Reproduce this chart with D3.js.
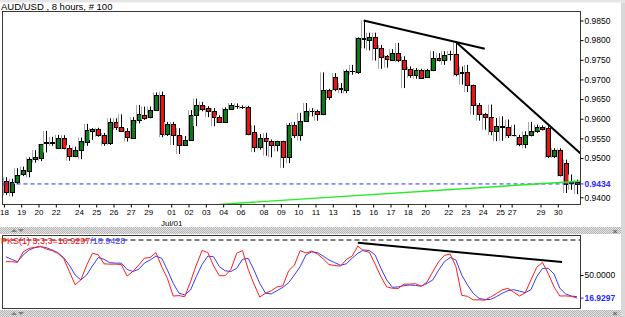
<!DOCTYPE html>
<html>
<head>
<meta charset="utf-8">
<script src="https://cdn.jsdelivr.net/npm/d3@7"></script>
<style>
body { margin: 0; background: #fff; }
svg { display: block; }
</style>
</head>
<body>
<div id="chart"></div>
<script>
// AUD/USD 8h candles
var opens  = [0.9441,0.9414,0.9438,0.9459,0.9468,0.9497,0.9501,0.9537,0.9537,0.9525,
              0.9550,0.9525,0.9505,0.9520,0.9542,0.9570,0.9574,0.9559,0.9537,0.9592,
              0.9580,0.9570,0.9552,0.9597,0.9609,0.9605,0.9622,0.9660,0.9561,0.9587,
              0.9559,0.9533,0.9546,0.9609,0.9634,0.9627,0.9619,0.9604,0.9591,0.9625,
              0.9632,0.9631,0.9630,0.9565,0.9529,0.9551,0.9544,0.9532,0.9543,0.9502,
              0.9583,0.9559,0.9593,0.9619,0.9619,0.9612,0.9674,0.9706,0.9676,0.9674,
              0.9721,0.9718,0.9805,0.9801,0.9807,0.9779,0.9759,0.9750,0.9767,0.9750,
              0.9727,0.9712,0.9725,0.9706,0.9723,0.9755,0.9749,0.9765,0.9765,0.9718,
              0.9718,0.9685,0.9634,0.9612,0.9604,0.9568,0.9581,0.9579,0.9559,0.9553,
              0.9536,0.9558,0.9570,0.9579,0.9576,0.9504,0.9520,0.9487,0.9439,0.9438];
var highs  = [0.9451,0.9447,0.9474,0.9478,0.9502,0.9520,0.9536,0.9569,0.9554,0.9559,
              0.9558,0.9533,0.9529,0.9552,0.9587,0.9576,0.9577,0.9564,0.9601,0.9601,
              0.9611,0.9576,0.9604,0.9635,0.9631,0.9631,0.9667,0.9669,0.9592,0.9592,
              0.9576,0.9556,0.9622,0.9651,0.9643,0.9632,0.9627,0.9609,0.9629,0.9640,
              0.9639,0.9634,0.9633,0.9583,0.9561,0.9564,0.9547,0.9544,0.9544,0.9589,
              0.9592,0.9615,0.9640,0.9627,0.9623,0.9718,0.9676,0.9716,0.9691,0.9725,
              0.9737,0.9807,0.9850,0.9819,0.9819,0.9788,0.9762,0.9777,0.9793,0.9759,
              0.9733,0.9729,0.9727,0.9727,0.9772,0.9767,0.9772,0.9773,0.9795,0.9733,
              0.9737,0.9687,0.9640,0.9615,0.9636,0.9602,0.9606,0.9598,0.9585,0.9559,
              0.9568,0.9592,0.9585,0.9583,0.9581,0.9525,0.9525,0.9496,0.9458,0.9445];
var lows   = [0.9406,0.9402,0.9434,0.9454,0.9451,0.9488,0.9492,0.9514,0.9531,0.9524,
              0.9522,0.9493,0.9502,0.9497,0.9531,0.9546,0.9554,0.9531,0.9533,0.9571,
              0.9567,0.9542,0.9548,0.9588,0.9597,0.9601,0.9620,0.9553,0.9556,0.9533,
              0.9510,0.9531,0.9544,0.9581,0.9619,0.9604,0.9581,0.9589,0.9589,0.9623,
              0.9625,0.9625,0.9558,0.9515,0.9521,0.9506,0.9502,0.9517,0.9475,0.9487,
              0.9551,0.9544,0.9592,0.9606,0.9595,0.9609,0.9648,0.9670,0.9665,0.9665,
              0.9712,0.9714,0.9779,0.9774,0.9748,0.9727,0.9730,0.9750,0.9744,0.9678,
              0.9704,0.9702,0.9702,0.9704,0.9721,0.9746,0.9737,0.9748,0.9708,0.9687,
              0.9668,0.9610,0.9595,0.9572,0.9558,0.9543,0.9544,0.9551,0.9555,0.9530,
              0.9525,0.9555,0.9564,0.9570,0.9500,0.9500,0.9453,0.9411,0.9419,0.9408];
var closes = [0.9414,0.9438,0.9457,0.9469,0.9497,0.9502,0.9535,0.9541,0.9542,0.9550,
              0.9525,0.9505,0.9520,0.9543,0.9571,0.9574,0.9559,0.9537,0.9592,0.9580,
              0.9570,0.9553,0.9597,0.9611,0.9601,0.9622,0.9660,0.9561,0.9587,0.9559,
              0.9533,0.9546,0.9609,0.9634,0.9625,0.9619,0.9604,0.9591,0.9625,0.9634,
              0.9633,0.9630,0.9561,0.9529,0.9551,0.9544,0.9532,0.9543,0.9502,0.9583,
              0.9559,0.9593,0.9619,0.9620,0.9612,0.9674,0.9655,0.9676,0.9677,0.9721,
              0.9722,0.9805,0.9804,0.9807,0.9779,0.9758,0.9751,0.9767,0.9750,0.9727,
              0.9712,0.9725,0.9704,0.9723,0.9755,0.9749,0.9763,0.9764,0.9715,0.9717,
              0.9685,0.9634,0.9612,0.9604,0.9568,0.9582,0.9580,0.9559,0.9558,0.9536,
              0.9559,0.9570,0.9579,0.9574,0.9504,0.9520,0.9458,0.9435,0.9436,0.9434];

// PKS(1) 5,3,3 oscillator: fast (red) and slow (blue)
var fastK = [69,69,68,83,88,89.5,91,87,85,81,
             74,55,36,43,64,81,79,66,65.5,65.5,
             65,48.5,55,64,74,75,82,62,45,20,
             20.5,19,40.5,64,85,82,63,49,49,58,
             81,85,58,37,18.5,24,27.6,33,34.5,56,
             64,84.8,81.5,84,80,73,65,63.5,62.7,72,
             77,91.4,84.5,82.5,65.5,47.5,33,31,30.8,37,
             37,37.6,34,40,55,69,78,80,62,21,
             19.5,14.5,14.5,14,18.5,23.5,28.6,31,25.5,20,
             24.5,43,61,68,52,33,20,20.2,19.5,16.9297];
var slowD = [76,72.4,69,78.6,85.7,89,90.5,89,85.7,82,
             75,64,50,43,50,63,75,72.4,67.6,67,
             67,58,55,58,67,71.4,77,74,57,38,
             24,21.6,28.6,47.6,65,77,76,62,56,55,
             59.5,72.4,73.8,57,38,24,23,27.6,32.4,39,
             50,62,78.6,83,82,77,71.4,67.6,64,66,
             74,81,85.7,85,78.6,59.5,43,32.4,33,34.8,
             35.7,35,34,38,43,57,69,75,71.4,50,
             35.7,23.8,16.7,15,15,19,23.8,27.6,29,27,
             24.8,29,47.6,59.5,59.5,51.4,31,23,20,18.9428];

var dayLabels = ["18","19","20","22","24","25","26","27","29","01","02","03","04","06","08","09",
                 "10","11","13","15","16","17","18","20","22","23","24","25","27","29","30"];
var dayIndex  = [0,3,6,9,13,16,19,22,25,29,32,35,38,41,45,48,
                 51,54,57,61,64,67,70,73,77,80,83,86,88,93,96];
var priceTicks = [0.9400,0.9500,0.9550,0.9600,0.9650,0.9700,0.9750,0.9800,0.9850];
var oscTicks = [50];

// hand-drawn trend lines: [candle index, value]
var trendTop   = [[62, 0.9850], [83, 0.9778]];
var trendDown  = [[78, 0.9795], [99.7, 0.9510]];
var trendGreen = [[37, 0.9382], [99.5, 0.9441]];
var trendOsc   = [[61, 96], [96.4, 68.6]];

var lastPrice = closes[closes.length - 1];

var W = 625, H = 317;
var left = 2.5, right = 580.5;
var mainTop = 11.5, mainBottom = 204.5;
var oscTop = 235.5, oscBottom = 308.5;
var font = "Liberation Sans, Arial, sans-serif";
var fmt4 = d3.format(".4f");

var svg = d3.select("#chart").append("svg")
    .attr("width", W).attr("height", H);

var defs = svg.append("defs");
var pat = defs.append("pattern").attr("id", "dots")
    .attr("width", 2).attr("height", 2).attr("patternUnits", "userSpaceOnUse");
pat.append("rect").attr("width", 2).attr("height", 2).attr("fill", "#e4e4e4");
pat.append("rect").attr("width", 1).attr("height", 1).attr("fill", "#b4b4b4");
pat.append("rect").attr("x", 1).attr("y", 1).attr("width", 1).attr("height", 1).attr("fill", "#b4b4b4");

defs.append("clipPath").attr("id", "clipMain").append("rect")
    .attr("x", left).attr("y", mainTop).attr("width", right - left).attr("height", mainBottom - mainTop);
defs.append("clipPath").attr("id", "clipOsc").append("rect")
    .attr("x", left).attr("y", oscTop).attr("width", right - left).attr("height", oscBottom - oscTop);

// background pieces
svg.append("rect").attr("width", W).attr("height", H).attr("fill", "#fff");
svg.append("rect").attr("width", W).attr("height", 2.5).attr("fill", "#e6e6e6");
svg.append("rect").attr("x", 0).attr("y", 227).attr("width", W).attr("height", 7).attr("fill", "url(#dots)");
svg.append("rect").attr("x", 0).attr("y", 310).attr("width", W).attr("height", 7).attr("fill", "url(#dots)");
svg.append("rect").attr("x", 621).attr("y", 2.5).attr("width", 4).attr("height", H).attr("fill", "#d8d8d8");

// little splitter arrows and close marks
[[14, 229, 232], [21, 232, 229], [14, 312, 315], [21, 315, 312]].forEach(function (t) {
    svg.append("path")
        .attr("d", "M" + (t[0] - 3) + "," + t[2] + "L" + (t[0] + 3) + "," + t[2] + "L" + t[0] + "," + t[1] + "Z")
        .attr("fill", "#808080");
});
[233.5, 316].forEach(function (yy) {
    svg.append("text").attr("x", 615).attr("y", yy).attr("text-anchor", "middle")
        .attr("font-family", font).attr("font-size", 8).attr("font-weight", "bold")
        .attr("fill", "#606060").text("×");
});

// scales
var x = d3.scaleLinear().domain([-0.5, 99.5]).range([3, 580]);
var y = d3.scaleLinear().domain([0.94, 0.985]).range([197.3, 20.5]);
var yo = d3.scaleLinear().domain([0, 100]).range([310, 240]);

// title
svg.append("text").attr("x", 1).attr("y", 10)
    .attr("font-family", font).attr("font-size", 9.5).attr("fill", "#000")
    .text("AUD/USD , 8 hours, # 100");

// main panel
var main = svg.append("g").attr("clip-path", "url(#clipMain)");

var candles = d3.range(opens.length).map(function (i) {
    return { i: i, o: opens[i], h: highs[i], l: lows[i], c: closes[i] };
});

var cg = main.selectAll("g.candle").data(candles).enter().append("g").attr("class", "candle");
cg.append("rect")
    .attr("x", d => Math.round(x(d.i)) - 3)
    .attr("y", d => y(d.h))
    .attr("width", 1)
    .attr("height", d => y(d.l) - y(d.h))
    .attr("fill", "#a8a8a8");
cg.append("line")
    .attr("x1", d => Math.round(x(d.i)) + 0.5)
    .attr("x2", d => Math.round(x(d.i)) + 0.5)
    .attr("y1", d => y(d.h))
    .attr("y2", d => y(d.l))
    .attr("stroke", "#000").attr("stroke-width", 1);
cg.append("rect")
    .attr("x", d => Math.round(x(d.i)) - 1.5)
    .attr("y", d => Math.round(y(Math.max(d.o, d.c))) + 0.5)
    .attr("width", 4)
    .attr("height", d => Math.max(0.01, Math.round(y(Math.min(d.o, d.c))) - Math.round(y(Math.max(d.o, d.c)))))
    .attr("fill", d => d.c >= d.o ? "#0c7a16" : "#ee1111")
    .attr("stroke", "#000").attr("stroke-width", 1);

// last price line
main.append("line")
    .attr("x1", left).attr("x2", right)
    .attr("y1", y(lastPrice)).attr("y2", y(lastPrice))
    .attr("stroke", "#2a2aff").attr("stroke-width", 1).attr("stroke-dasharray", "4,3");

var lineGen = d3.line().x(d => x(d[0])).y(d => y(d[1]));
main.append("path").attr("d", lineGen(trendGreen))
    .attr("fill", "none").attr("stroke", "#22ee22").attr("stroke-width", 1.4);
main.append("path").attr("d", lineGen(trendTop))
    .attr("fill", "none").attr("stroke", "#000").attr("stroke-width", 2);
main.append("path").attr("d", lineGen(trendDown))
    .attr("fill", "none").attr("stroke", "#000").attr("stroke-width", 2);

// frames
svg.append("rect").attr("x", left).attr("y", mainTop)
    .attr("width", right - left).attr("height", mainBottom - mainTop)
    .attr("fill", "none").attr("stroke", "#3a3a2e").attr("stroke-width", 1);

// right price axis
var yAxis = svg.append("g").attr("transform", "translate(" + right + ",0)")
    .call(d3.axisRight(y).tickValues(priceTicks).tickFormat(fmt4).tickSize(3).tickPadding(1));
yAxis.select(".domain").remove();
yAxis.selectAll("text").attr("font-family", font).attr("font-size", 8.5).attr("fill", "#000");
yAxis.selectAll("line").attr("stroke", "#000");

var lastTick = svg.append("g").attr("transform", "translate(" + right + "," + y(lastPrice) + ")");
lastTick.append("line").attr("x2", 3).attr("stroke", "#2a2aff");
lastTick.append("text").attr("x", 4).attr("dy", "0.32em")
    .attr("font-family", font).attr("font-size", 8.5).attr("font-weight", "bold").attr("fill", "#2a2aff")
    .text(fmt4(lastPrice));

// date axis
var xAxis = svg.append("g").attr("transform", "translate(0," + mainBottom + ")")
    .call(d3.axisBottom(x).tickValues(dayIndex).tickFormat((d, k) => dayLabels[k]).tickSize(3).tickPadding(2));
xAxis.select(".domain").remove();
xAxis.selectAll(".tick").attr("transform", d => "translate(" + (x(d) - 1.5) + ",0)");
xAxis.selectAll("text").attr("font-family", font).attr("font-size", 8).attr("fill", "#000");
xAxis.selectAll("line").attr("stroke", "#000");
svg.append("text").attr("x", x(dayIndex[dayLabels.indexOf("01")]) - 1.5).attr("y", 226)
    .attr("text-anchor", "middle").attr("font-family", font).attr("font-size", 8).text("Jul/01");

// oscillator panel
var osc = svg.append("g").attr("clip-path", "url(#clipOsc)");
osc.append("line").attr("x1", left).attr("x2", right)
    .attr("y1", yo(100)).attr("y2", yo(100))
    .attr("stroke", "#000").attr("stroke-dasharray", "5,3");
var oscLine = d3.line().x((d, i) => x(i)).y(d => yo(d));
osc.append("path").attr("d", oscLine(slowD))
    .attr("fill", "none").attr("stroke", "#3b3bff").attr("stroke-width", 1);
osc.append("path").attr("d", oscLine(fastK))
    .attr("fill", "none").attr("stroke", "#ff1c1c").attr("stroke-width", 1);
var tLine = d3.line().x(d => x(d[0])).y(d => yo(d[1]));
osc.append("path").attr("d", tLine(trendOsc))
    .attr("fill", "none").attr("stroke", "#000").attr("stroke-width", 2);

svg.append("rect").attr("x", left).attr("y", oscTop)
    .attr("width", right - left).attr("height", oscBottom - oscTop)
    .attr("fill", "none").attr("stroke", "#3a3a2e").attr("stroke-width", 1);

var legend = svg.append("text").attr("x", 1).attr("y", 244)
    .attr("font-family", font).attr("font-size", 9);
legend.append("tspan").attr("fill", "#ff0000")
    .text("PKS(1) 5,3,3=" + fmt4(fastK[fastK.length - 1]));
legend.append("tspan").attr("fill", "#3b3bff").text("/" + fmt4(slowD[slowD.length - 1]));

var oAxis = svg.append("g").attr("transform", "translate(" + right + ",0)")
    .call(d3.axisRight(yo).tickValues(oscTicks).tickFormat(fmt4).tickSize(3).tickPadding(1));
oAxis.select(".domain").remove();
oAxis.selectAll("text").attr("font-family", font).attr("font-size", 8.5).attr("fill", "#000");
oAxis.selectAll("line").attr("stroke", "#000");

var oLast = fastK[fastK.length - 1];
var oTick = svg.append("g").attr("transform", "translate(" + right + "," + yo(oLast) + ")");
oTick.append("line").attr("x2", 3).attr("stroke", "#2a2aff");
oTick.append("text").attr("x", 4).attr("dy", "0.32em")
    .attr("font-family", font).attr("font-size", 8.5).attr("font-weight", "bold").attr("fill", "#2a2aff")
    .text(fmt4(oLast));
</script>
</body>
</html>
